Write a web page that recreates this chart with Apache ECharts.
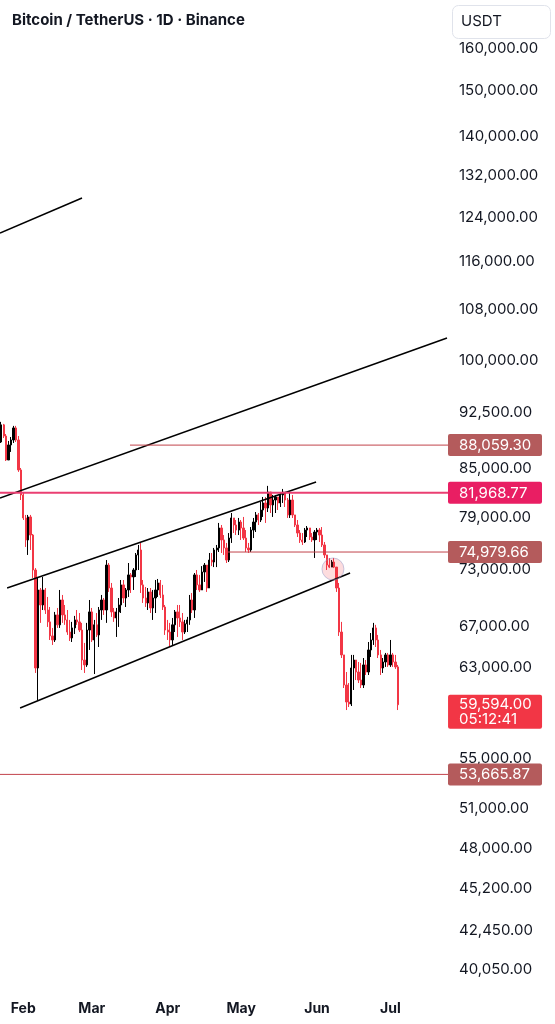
<!DOCTYPE html>
<html>
<head>
<meta charset="utf-8">
<script src="https://cdn.jsdelivr.net/npm/echarts@6/dist/echarts.min.js"></script>
<style>
  html, body { margin: 0; padding: 0; background: #fff; }
  #chart { width: 555px; height: 1024px; }
</style>
</head>
<body>
<div id="chart"></div>
<script>
// ---- data ----
const START_DATE = Date.UTC(2026, 0, 23);   // first candle on the left edge
const DAYS_ON_AXIS = 183;                   // visible daily slots (incl. empty right margin)
const MONTH_NAMES = ["Jan", "Feb", "Mar", "Apr", "May", "Jun", "Jul", "Aug", "Sep", "Oct", "Nov", "Dec"];

const FIRST_OPEN = 88470;
const CLOSE = [
  90780, 89270, 86110, 88080, 88740, 90360, 88740, 84830, 81700, 78920,
  76350, 79040, 76920, 72980, 62980, 70820, 69240, 70820, 68720, 67500,
  66090, 65690, 68210, 67200, 69760, 68210, 67700, 66480, 65890, 66890,
  67700, 67500, 66680, 63740, 63270, 66680, 68520, 65690, 67200, 66190,
  68720, 69760, 68720, 73520, 71030, 68520, 67900, 68520, 69240, 71360,
  69970, 70820, 72440, 72220, 72980, 74650, 75210, 71360, 69970, 69450,
  70610, 68930, 69970, 70820, 71570, 70290, 69030, 66680, 66480, 65690,
  67200, 68520, 67900, 67500, 66480, 67300, 67700, 69760, 68720, 72440,
  71360, 70820, 72760, 73520, 71030, 74080, 73860, 75210, 75440, 77740,
  76350, 75440, 74080, 76570, 78920, 78090, 77500, 78440, 77740, 76570,
  75440, 75210, 77500, 78440, 79280, 78680, 79870, 80720, 80110, 82060,
  80480, 81080, 81450, 80720, 81700, 82060, 81080, 79280, 81080, 79280,
  78090, 77150, 76350, 76120, 77500, 77740, 76690, 76350, 77270, 77500,
  76920, 75780, 74650, 73520, 73300, 73860, 73300, 71030, 66480, 64230,
  61390, 59840, 59660, 62980, 63740, 62600, 61850, 61390, 63270, 62600,
  64710, 65690, 66890, 65690, 64230, 62980, 63550, 64230, 63270, 64230,
  63550, 63080, 59594
];
const HIGH = [
  91190, 90910, 89540, 88610, 89140, 90640, 90640, 89270, 85080, 82060,
  79280, 79280, 79280, 77040, 73190, 72220, 71030, 72220, 71030, 70080,
  69030, 66890, 68520, 68930, 70820, 70290, 69240, 68720, 67700, 67500,
  68110, 68720, 68410, 67400, 65400, 67400, 69760, 68930, 67700, 68410,
  69030, 70290, 69970, 74080, 73750, 71570, 68930, 68930, 69970, 71890,
  71890, 71030, 73750, 72650, 73190, 74870, 75780, 76010, 71890, 71140,
  71030, 71030, 70820, 71890, 72000, 71890, 71360, 69240, 67700, 67400,
  67900, 68720, 69240, 69240, 68410, 67700, 68010, 70290, 70500, 72650,
  72980, 72440, 73410, 73750, 73520, 74870, 74870, 75440, 75780, 78330,
  78090, 76920, 76010, 77150, 79510, 78920, 78680, 78920, 78680, 79040,
  77500, 76010, 77850, 78920, 79630, 79510, 80840, 81450, 81450, 82820,
  81330, 81700, 81700, 81330, 81940, 82440, 82060, 81330, 82060, 81700,
  79280, 78680, 77500, 77150, 77740, 77970, 77740, 77150, 77500, 77740,
  77740, 77850, 76120, 74650, 74310, 74080, 74310, 73190, 71570, 67500,
  64230, 62600, 61570, 64230, 64230, 63740, 63550, 63460, 63930, 63740,
  65490, 66380, 67400, 67200, 66190, 64710, 63930, 64420, 64420, 65690,
  64420, 64230, 63270
];
const LOW = [
  88340, 89000, 85980, 86110, 87160, 88340, 88470, 84580, 81080, 78680,
  75550, 74650, 75210, 72110, 62510, 60020, 67400, 68720, 68310, 66990,
  65690, 65200, 65490, 66890, 66890, 67400, 67200, 66190, 65590, 65490,
  66280, 67200, 66480, 62790, 62510, 63080, 64710, 65490, 62410, 65990,
  65000, 67700, 68210, 67400, 70610, 68010, 67500, 65990, 66990, 68410,
  69450, 69030, 70080, 70500, 70820, 72220, 72980, 70500, 69450, 69030,
  68720, 68410, 67700, 68410, 70080, 69970, 68720, 66190, 65690, 65000,
  65200, 66480, 65990, 66990, 65690, 66280, 66480, 67200, 68410, 67900,
  70820, 70610, 70820, 71680, 70610, 71030, 73410, 73300, 73300, 74980,
  74870, 74650, 73750, 73860, 76010, 77150, 76920, 76920, 76350, 76350,
  74980, 74870, 74980, 76570, 77270, 78090, 78440, 79040, 78330, 79630,
  79510, 79040, 79510, 79870, 80230, 80720, 80230, 78920, 78920, 78920,
  77850, 76690, 76010, 75780, 76010, 76690, 76350, 76120, 74310, 76350,
  76120, 75550, 74310, 72980, 73190, 73300, 73190, 70610, 66090, 63930,
  61110, 59120, 59390, 59480, 60930, 61850, 61570, 61110, 61110, 62320,
  62320, 64030, 65200, 65000, 63930, 62320, 62510, 63080, 63080, 63080,
  63080, 62890, 59120
];

// price scale labels on the right
const PRICE_TICKS = [160000, 150000, 140000, 132000, 124000, 116000, 108000, 100000,
  92500, 85000, 79000, 73000, 67000, 63000, 55000, 51000, 48000, 45200, 42450, 40050];
const PRICE_TOP = 171980;
const PRICE_BOTTOM = 38805;

// horizontal levels: price, first day index of the ray
const LEVEL_PRICES = [88059.30, 81968.77, 74979.66, 53665.87];
const LEVEL_FROM = [52.6, -0.5, 92.6, -0.5];
const LEVEL_KIND = ["dark", "pink", "dark", "dark"];

// drawn trend lines: [dayIndex, price] pairs
const TRENDS = [
  [[-0.5, 121150], [33.0, 127690]],
  [[-0.5, 81320], [182.1, 103445]],
  [[2.4, 71030], [128.6, 83310]],
  [[7.7, 59300], [142.5, 72650]]
];

const LAST_PRICE = 59594.00;
const COUNTDOWN = "05:12:41";
const MARK_CIRCLE = [135.5, 73090];

// ---- build ----
const FONT = 'Inter, "Noto Sans", sans-serif';
const TEXT = "#131722";
const UP = "#000000";
const DOWN = "#f23645";
const END_X = DAYS_ON_AXIS - 0.5;

const dates = [];
for (let i = 0; i < DAYS_ON_AXIS; i++) {
  dates.push(new Date(START_DATE + i * 86400000).toISOString().slice(0, 10));
}

const fmt = (v) => Number(v).toLocaleString("en-US", { minimumFractionDigits: 2, maximumFractionDigits: 2 });

const candles = CLOSE.map((c, i) => {
  const o = i === 0 ? FIRST_OPEN : CLOSE[i - 1];
  const hi = Math.max(HIGH[i], o, c);
  const lo = Math.min(LOW[i], o, c);
  return [Math.log(o), Math.log(c), Math.log(lo), Math.log(hi)];
});

const levelStyle = {
  dark: { line: "#c2434b", box: "#b45b5c", width: 1 },
  pink: { line: "#ea3f72", box: "#e91e63", width: 2 }
};

const series = [];

series.push({
  type: "candlestick",
  xAxisIndex: 0,
  yAxisIndex: 0,
  data: candles,
  barWidth: 1.8,
  itemStyle: { color: UP, color0: DOWN, borderColor: UP, borderColor0: DOWN, borderWidth: 1 },
  z: 3
});

TRENDS.forEach((t) => {
  series.push({
    type: "line",
    xAxisIndex: 1,
    data: t.map(p => [p[0], Math.log(p[1])]),
    showSymbol: false,
    lineStyle: { color: "#000", width: 1.5 },
    clip: true,
    z: 4
  });
});

LEVEL_PRICES.forEach((p, i) => {
  const st = levelStyle[LEVEL_KIND[i]];
  series.push({
    type: "line",
    xAxisIndex: 1,
    data: [[LEVEL_FROM[i], Math.log(p)], [END_X, Math.log(p)]],
    showSymbol: false,
    lineStyle: { color: st.line, width: st.width },
    clip: false,
    z: 5,
    endLabel: {
      show: true,
      distance: 0,
      formatter: "{a|" + fmt(p) + "}",
      backgroundColor: st.box,
      borderRadius: 2,
      padding: [3, 9, 2, 11],
      rich: { a: { color: "#fff", fontSize: 15, fontFamily: FONT, lineHeight: 17, width: 74 } }
    }
  });
});

series.push({
  type: "scatter",
  xAxisIndex: 1,
  data: [[MARK_CIRCLE[0], Math.log(MARK_CIRCLE[1])]],
  symbolSize: 22,
  itemStyle: { color: "rgba(242,54,69,0.22)", borderColor: "rgba(140,150,200,0.6)", borderWidth: 1 },
  z: 6
});

series.push({
  type: "line",
  xAxisIndex: 1,
  data: [],
  markPoint: {
    symbol: "rect",
    symbolSize: 0.1,
    itemStyle: { color: "rgba(0,0,0,0)" },
    data: [{ coord: [END_X, Math.log(LAST_PRICE)] }],
    label: {
      show: true,
      position: "right",
      distance: 0,
      offset: [0, 7],
      formatter: "{a|" + fmt(LAST_PRICE) + "}\n{a|" + COUNTDOWN + "}",
      backgroundColor: DOWN,
      borderRadius: 2,
      padding: [2, 9, 2, 11],
      rich: { a: { color: "#fff", fontSize: 15, fontFamily: FONT, lineHeight: 15, width: 74 } }
    }
  },
  z: 7
});

const chart = echarts.init(document.getElementById("chart"), null, { renderer: "canvas" });
chart.setOption({
  animation: false,
  backgroundColor: "#ffffff",
  textStyle: { fontFamily: FONT },
  title: {
    text: "Bitcoin / TetherUS · 1D · Binance",
    left: 12,
    top: 13,
    padding: 0,
    textStyle: { fontSize: 15, fontWeight: "bold", color: TEXT, fontFamily: FONT }
  },
  graphic: [
    {
      type: "rect",
      left: 452, top: 5,
      shape: { width: 98, height: 33, r: 6 },
      style: { fill: "#fff", stroke: "#e0e3eb", lineWidth: 1 }
    },
    {
      type: "text",
      left: 461, top: 14,
      style: { text: "USDT", fontSize: 15, fill: TEXT, fontFamily: FONT }
    }
  ],
  grid: { left: 0, right: 107, top: 0, bottom: 34 },
  xAxis: [
    {
      type: "category",
      data: dates,
      boundaryGap: true,
      axisLine: { show: false },
      axisTick: { show: false },
      splitLine: { show: false },
      axisLabel: {
        interval: (idx, val) => val.slice(8, 10) === "01",
        formatter: (val) => MONTH_NAMES[+val.slice(5, 7) - 1],
        color: TEXT, fontSize: 14, fontWeight: "bold", margin: 12, fontFamily: FONT
      }
    },
    { type: "value", min: -0.5, max: END_X, show: false }
  ],
  yAxis: {
    type: "value",
    position: "right",
    min: Math.log(PRICE_BOTTOM),
    max: Math.log(PRICE_TOP),
    axisLine: { show: false },
    axisTick: { show: false },
    splitLine: { show: false },
    axisLabel: {
      customValues: PRICE_TICKS.map(v => Math.log(v)),
      formatter: (v) => fmt(Math.round(Math.exp(v) * 100) / 100),
      color: TEXT, fontSize: 15, margin: 11, align: "left", fontFamily: FONT
    }
  },
  series: series
});
</script>
</body>
</html>
